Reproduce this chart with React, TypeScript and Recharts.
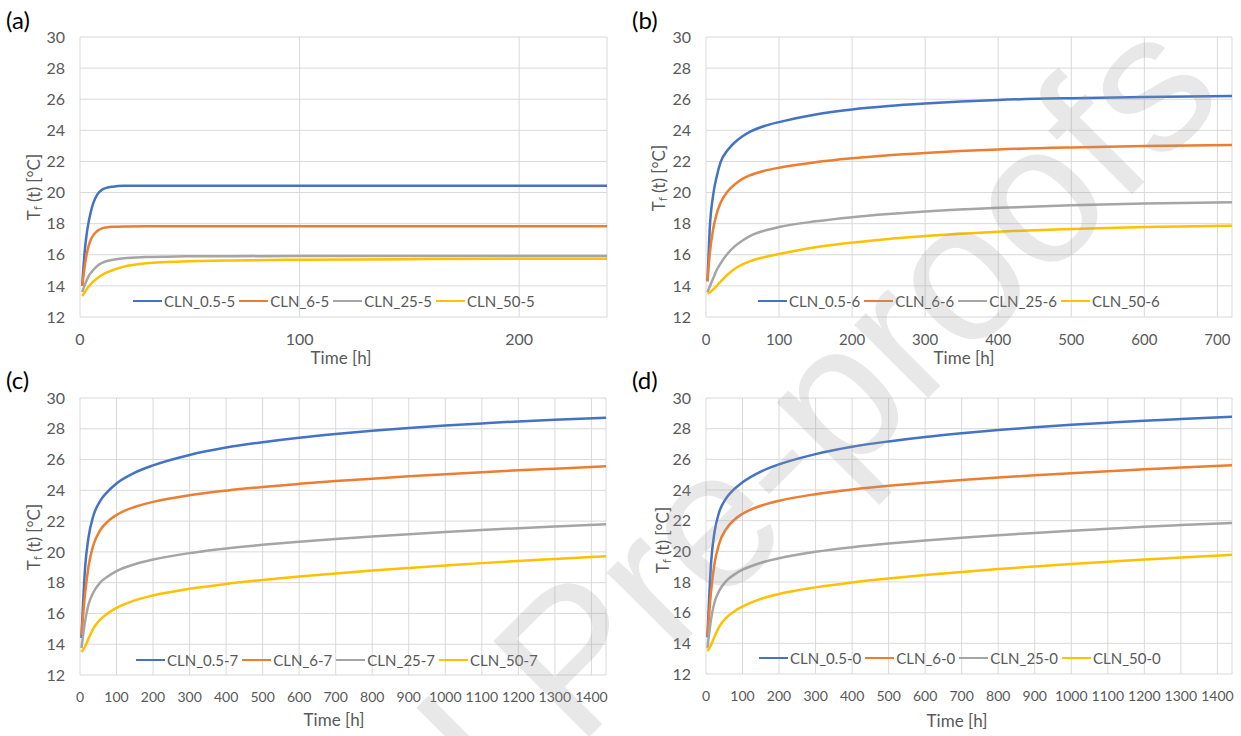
import { LineChart, Line, XAxis, YAxis, CartesianGrid, Legend } from 'recharts';

// --- values ---
const COLORS = ['#4472C4', '#ED7D31', '#A5A5A5', '#FFC000'];
const Y_TICKS = [12, 14, 16, 18, 20, 22, 24, 26, 28, 30];

// (a) 240 h
const timeA = [1, 2, 3, 4, 5, 6, 8, 10, 12, 15, 20, 30, 40, 50, 70, 100, 150, 200, 240];
const cln05A = [14.0, 16.0, 17.3, 18.15, 18.8, 19.3, 19.9, 20.18, 20.3, 20.38, 20.43, 20.44, 20.44, 20.44, 20.44, 20.44, 20.44, 20.44, 20.44];
const cln6A = [14.0, 15.1, 16.0, 16.6, 17.0, 17.25, 17.55, 17.7, 17.76, 17.8, 17.82, 17.83, 17.83, 17.83, 17.83, 17.83, 17.83, 17.83, 17.83];
const cln25A = [13.6, 14.0, 14.35, 14.65, 14.85, 15.02, 15.3, 15.48, 15.58, 15.68, 15.78, 15.85, 15.88, 15.9, 15.91, 15.92, 15.92, 15.92, 15.92];
const cln50A = [13.35, 13.55, 13.78, 13.98, 14.12, 14.27, 14.5, 14.7, 14.85, 15.02, 15.24, 15.45, 15.53, 15.58, 15.64, 15.68, 15.72, 15.74, 15.75];
const namesA = ['CLN_0.5-5', 'CLN_6-5', 'CLN_25-5', 'CLN_50-5'];

// (b) 720 h
const timeB = [2, 5, 10, 15, 20, 30, 40, 50, 60, 80, 100, 150, 200, 250, 300, 400, 500, 600, 720];
const cln05B = [14.3, 17.6, 19.9, 21.1, 21.95, 22.75, 23.25, 23.62, 23.9, 24.28, 24.53, 25.02, 25.34, 25.56, 25.72, 25.95, 26.07, 26.15, 26.2];
const cln6B = [14.3, 16.0, 17.7, 18.7, 19.35, 20.1, 20.55, 20.88, 21.1, 21.4, 21.6, 21.95, 22.2, 22.4, 22.55, 22.77, 22.9, 22.99, 23.05];
const cln25B = [13.6, 13.95, 14.5, 15.05, 15.45, 16.1, 16.57, 16.92, 17.2, 17.55, 17.78, 18.15, 18.42, 18.62, 18.78, 19.02, 19.18, 19.29, 19.37];
const cln50B = [13.5, 13.58, 13.78, 14.02, 14.28, 14.75, 15.12, 15.38, 15.58, 15.85, 16.05, 16.48, 16.78, 17.02, 17.2, 17.48, 17.66, 17.78, 17.87];
const namesB = ['CLN_0.5-6', 'CLN_6-6', 'CLN_25-6', 'CLN_50-6'];

// (c) 1440 h
const timeC = [4, 14, 23, 36, 55, 77, 100, 150, 200, 300, 400, 500, 600, 700, 800, 900, 1000, 1100, 1200, 1300, 1440];
const cln05C = [14.4, 19.0, 20.9, 22.3, 23.3, 23.95, 24.45, 25.15, 25.62, 26.3, 26.78, 27.13, 27.42, 27.66, 27.87, 28.05, 28.21, 28.35, 28.48, 28.59, 28.72];
const cln6C = [14.6, 17.3, 19.0, 20.4, 21.4, 22.0, 22.4, 22.92, 23.25, 23.68, 23.98, 24.22, 24.42, 24.6, 24.76, 24.91, 25.05, 25.18, 25.3, 25.41, 25.56];
const cln25C = [13.75, 15.5, 16.55, 17.35, 18.0, 18.42, 18.75, 19.2, 19.5, 19.92, 20.22, 20.46, 20.66, 20.84, 21.0, 21.15, 21.29, 21.42, 21.54, 21.65, 21.79];
const cln50C = [13.5, 13.85, 14.35, 15.0, 15.6, 16.02, 16.36, 16.85, 17.17, 17.6, 17.92, 18.18, 18.4, 18.6, 18.79, 18.96, 19.12, 19.27, 19.41, 19.54, 19.72];
const namesC = ['CLN_0.5-7', 'CLN_6-7', 'CLN_25-7', 'CLN_50-7'];

// (d) 1440 h
const timeD = [4, 14, 23, 36, 55, 77, 100, 150, 200, 300, 400, 500, 600, 700, 800, 900, 1000, 1100, 1200, 1300, 1440];
const cln05D = [14.4, 19.3, 21.2, 22.55, 23.45, 24.05, 24.5, 25.2, 25.67, 26.34, 26.82, 27.17, 27.46, 27.7, 27.91, 28.09, 28.25, 28.39, 28.52, 28.63, 28.77];
const cln6D = [14.5, 17.4, 19.15, 20.5, 21.45, 22.05, 22.45, 22.97, 23.3, 23.73, 24.03, 24.27, 24.47, 24.65, 24.81, 24.96, 25.1, 25.23, 25.35, 25.47, 25.62];
const cln25D = [13.7, 15.6, 16.65, 17.42, 18.06, 18.48, 18.8, 19.25, 19.55, 19.97, 20.27, 20.51, 20.71, 20.89, 21.05, 21.2, 21.34, 21.47, 21.6, 21.71, 21.85];
const cln50D = [13.5, 13.9, 14.42, 15.08, 15.66, 16.08, 16.4, 16.9, 17.22, 17.65, 17.97, 18.23, 18.45, 18.65, 18.84, 19.01, 19.17, 19.32, 19.46, 19.59, 19.78];
const namesD = ['CLN_0.5-0', 'CLN_6-0', 'CLN_25-0', 'CLN_50-0'];

const X_TICKS_A = [0, 100, 200];
const X_TICKS_B = [0, 100, 200, 300, 400, 500, 600, 700];
const X_TICKS_CD = [0, 100, 200, 300, 400, 500, 600, 700, 800, 900, 1000, 1100, 1200, 1300, 1400];

const FONT = 'Lato, "Open Sans", sans-serif';
const GREY_TEXT = '#595959';

const buildRows = (time: number[], series: number[][]) =>
    time.map((t, i) => ({ t, s0: series[0][i], s1: series[1][i], s2: series[2][i], s3: series[3][i] }));

// legend keeps series order (recharts sorts by name otherwise)
const LegendRow = ({ payload }: any) => {
    const items = [...(payload || [])].sort((a: any, b: any) => String(a.dataKey).localeCompare(String(b.dataKey)));
    return (
        <div style={{ display: 'flex', alignItems: 'center', fontFamily: FONT, fontSize: 15, color: GREY_TEXT, whiteSpace: 'nowrap' }}>
            {items.map((p: any, i: number) => (
                <div key={`leg-${i}`} style={{ display: 'flex', alignItems: 'center', marginRight: 4 }}>
                    <span style={{ display: 'inline-block', width: 29, height: 2.5, background: p.color, marginRight: 2 }} />
                    <span>{p.value}</span>
                </div>
            ))}
        </div>
    );
};

interface PanelProps {
    left: number;
    top: number;
    width: number;
    height: number;
    margin: { top: number; right: number; bottom: number; left: number };
    xMax: number;
    xTicks: number[];
    xTickSize: number;
    rows: any[];
    names: string[];
    legendPos: { left: number; top: number };
    yLabel: { x: number; y: number };
    xLabel: { x: number; y: number };
}

const Panel = (p: PanelProps) => (
    <div style={{ position: 'absolute', left: p.left, top: p.top, width: p.width, height: p.height }}>
        <LineChart width={p.width} height={p.height} data={p.rows} margin={p.margin} style={{ fontFamily: FONT }}>
            <CartesianGrid stroke="#D9D9D9" strokeWidth={1} />
            <XAxis
                dataKey="t"
                type="number"
                domain={[0, p.xMax]}
                ticks={p.xTicks}
                allowDataOverflow
                axisLine={false}
                tickLine={false}
                tickSize={6}
                tickMargin={11}
                height={40}
                interval={0}
                tick={{ fill: GREY_TEXT, fontSize: p.xTickSize, fontFamily: FONT }}
                label={{
                    content: () => (
                        <text x={p.xLabel.x} y={p.xLabel.y} textAnchor="middle" fill={GREY_TEXT} fontSize={17} fontFamily={FONT}>
                            Time [h]
                        </text>
                    ),
                }}
            />
            <YAxis
                type="number"
                domain={[12, 30]}
                ticks={Y_TICKS}
                axisLine={false}
                tickLine={false}
                tickSize={6}
                tickMargin={9}
                width={60}
                interval={0}
                tick={{ fill: GREY_TEXT, fontSize: 16, fontFamily: FONT }}
                label={{
                    content: () => (
                        <text
                            x={p.yLabel.x}
                            y={p.yLabel.y}
                            transform={`rotate(-90 ${p.yLabel.x} ${p.yLabel.y})`}
                            textAnchor="middle"
                            dominantBaseline="central"
                            fill={GREY_TEXT}
                            fontSize={17}
                            fontFamily={FONT}
                        >
                            <tspan>T</tspan>
                            <tspan fontSize={11} dy={4}>f</tspan>
                            <tspan dy={-4}> (t) [°C]</tspan>
                        </text>
                    ),
                }}
            />
            <Legend
                layout="horizontal"
                verticalAlign="middle"
                align="center"
                content={<LegendRow />}
                wrapperStyle={{ left: p.legendPos.left, top: p.legendPos.top, width: 'auto', height: 20 }}
            />
            {p.names.map((name, i) => (
                <Line
                    key={name}
                    type="monotone"
                    dataKey={`s${i}`}
                    name={name}
                    stroke={COLORS[i]}
                    strokeWidth={2.5}
                    dot={false}
                    activeDot={false}
                    isAnimationActive={false}
                />
            ))}
        </LineChart>
    </div>
);

const PANEL_LETTERS = [
    { label: '(a)', x: 6, y: 29 },
    { label: '(b)', x: 632, y: 29 },
    { label: '(c)', x: 6, y: 389 },
    { label: '(d)', x: 632, y: 389 },
];

export default function App() {
    return (
        <div style={{ position: 'absolute', left: 0, top: 0, width: 1241, height: 736, background: '#fff', overflow: 'hidden' }}>
            <Panel
                left={0}
                top={0}
                width={620}
                height={370}
                margin={{ top: 37, right: 13, bottom: 13, left: 20 }}
                xMax={240}
                xTicks={X_TICKS_A}
                xTickSize={16}
                rows={buildRows(timeA, [cln05A, cln6A, cln25A, cln50A])}
                names={namesA}
                legendPos={{ left: 133, top: 292 }}
                yLabel={{ x: 33, y: 187 }}
                xLabel={{ x: 341, y: 364 }}
            />
            <Panel
                left={620}
                top={0}
                width={621}
                height={370}
                margin={{ top: 37, right: 9, bottom: 13, left: 26 }}
                xMax={720}
                xTicks={X_TICKS_B}
                xTickSize={15}
                rows={buildRows(timeB, [cln05B, cln6B, cln25B, cln50B])}
                names={namesB}
                legendPos={{ left: 138, top: 292 }}
                yLabel={{ x: 38, y: 178 }}
                xLabel={{ x: 344, y: 364 }}
            />
            <Panel
                left={0}
                top={368}
                width={620}
                height={368}
                margin={{ top: 30, right: 14, bottom: 21, left: 20 }}
                xMax={1440}
                xTicks={X_TICKS_CD}
                xTickSize={14}
                rows={buildRows(timeC, [cln05C, cln6C, cln25C, cln50C])}
                names={namesC}
                legendPos={{ left: 136, top: 283 }}
                yLabel={{ x: 33, y: 169 }}
                xLabel={{ x: 334, y: 358 }}
            />
            <Panel
                left={620}
                top={368}
                width={621}
                height={368}
                margin={{ top: 30, right: 9, bottom: 22, left: 26 }}
                xMax={1440}
                xTicks={X_TICKS_CD}
                xTickSize={14}
                rows={buildRows(timeD, [cln05D, cln6D, cln25D, cln50D])}
                names={namesD}
                legendPos={{ left: 139, top: 281 }}
                yLabel={{ x: 42, y: 172 }}
                xLabel={{ x: 337, y: 359 }}
            />
            <svg width={1241} height={736} style={{ position: 'absolute', left: 0, top: 0, pointerEvents: 'none' }}>
                {PANEL_LETTERS.map((l) => (
                    <text key={l.label} x={l.x} y={l.y} fontSize={24} fontFamily={FONT} fill="#000">
                        {l.label}
                    </text>
                ))}
                {/* watermark over the figure */}
                <text
                    x={1180}
                    y={50}
                    transform="rotate(-45 1180 50)"
                    textAnchor="end"
                    dominantBaseline="central"
                    fontSize={197}
                    fontFamily='"Liberation Sans", Arial, sans-serif'
                    fill="rgba(150,150,150,0.22)"
                >
                    Journal Pre-proofs
                </text>
            </svg>
        </div>
    );
}
